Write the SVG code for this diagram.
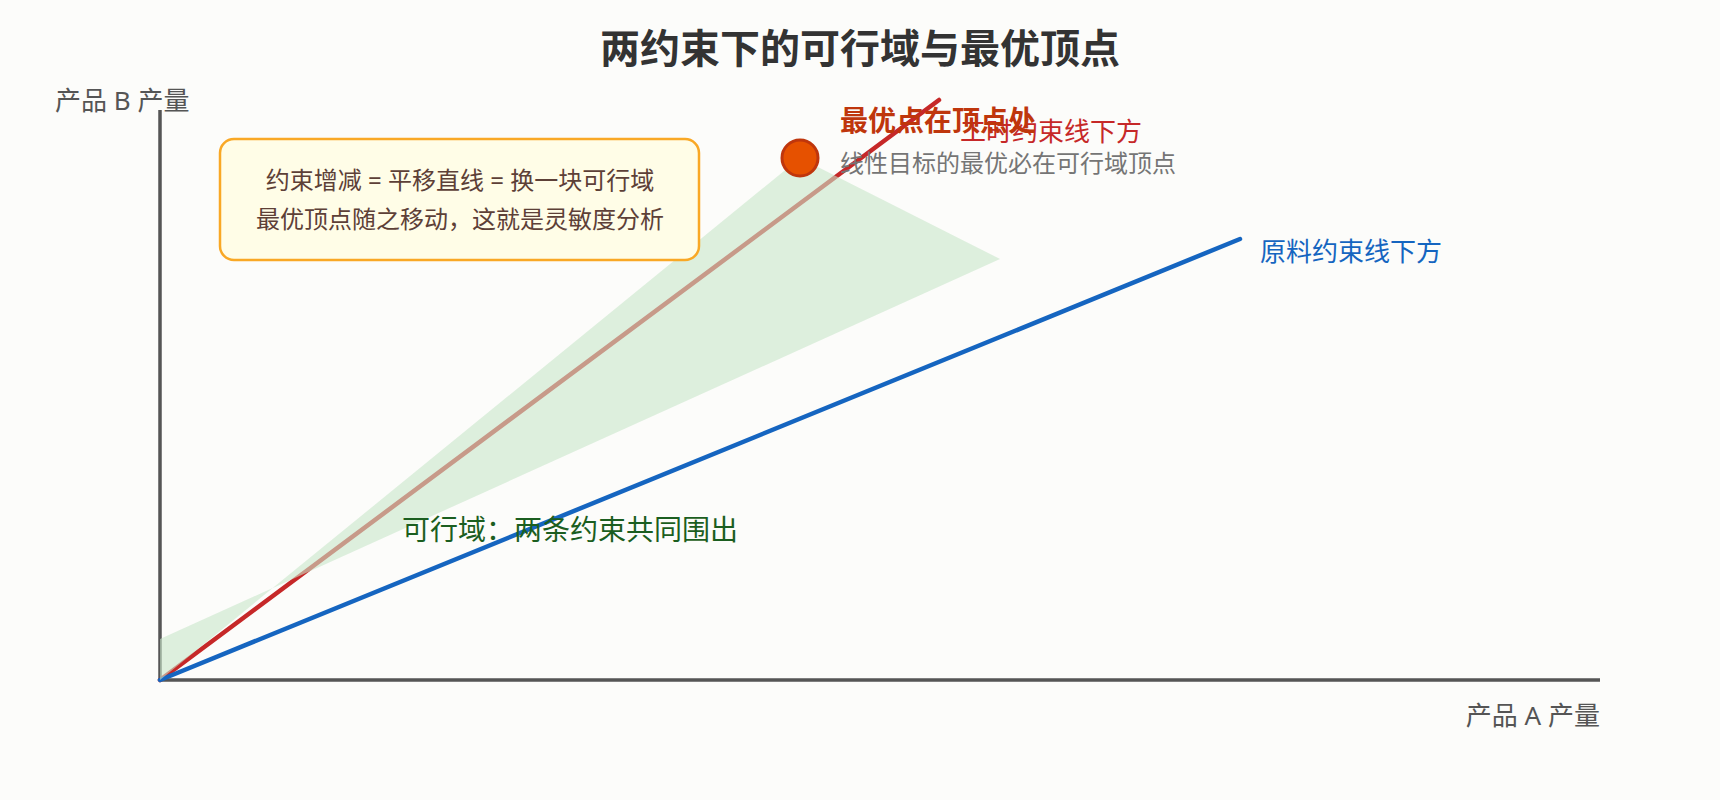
<svg xmlns="http://www.w3.org/2000/svg" width="1720" height="800" viewBox="0 0 1720 800">
<style>
text{font-family:"Noto Sans","Noto Sans CJK SC",sans-serif}
.title{font-size:40px;font-weight:bold;fill:#333;text-anchor:middle}
.axlab{font-size:26px;fill:#555}
.axis{stroke:#555;stroke-width:3.5;fill:none}
.line{stroke-width:4.5;fill:none;stroke-linecap:round}
.box{fill:#fffde7;stroke:#f9a825;stroke-width:2.5}
.boxtxt{font-size:24px;fill:#5d4037;text-anchor:middle}
</style>
<rect x="0" y="0" width="1720" height="800" fill="#fcfcfa"/>
<text class="title" x="860" y="63">两约束下的可行域与最优顶点</text>
<g id="axes">
<line class="axis" x1="160" y1="110" x2="160" y2="680"/>
<line class="axis" x1="160" y1="680" x2="1600" y2="680"/>
<text class="axlab" x="55" y="110">产品 B 产量</text>
<text class="axlab" x="1600" y="725" text-anchor="end">产品 A 产量</text>
</g>
<g id="connectors">
<line id="labor-line" class="line" stroke="#c62828" x1="160" y1="680" x2="939" y2="100"/>
<line id="material-line" class="line" stroke="#1565c0" x1="160" y1="680" x2="1240" y2="239"/>
</g>
<g id="feasible-region">
<polygon points="160,680 160,639 1000,259 800,158" fill="#c8e6c9" opacity="0.6"/>
<text x="402" y="540" font-size="28" fill="#1b5e20">可行域：两条约束共同围出</text>
</g>
<g id="labor-label">
<text x="960" y="141" font-size="26" fill="#c62828">工时约束线下方</text>
</g>
<g id="material-label">
<text x="1260" y="261" font-size="26" fill="#1565c0">原料约束线下方</text>
</g>
<g id="optimum">
<circle cx="800" cy="158" r="18" fill="#e65100" stroke="#bf360c" stroke-width="3"/>
<text x="840" y="131" font-size="28" font-weight="bold" fill="#bf360c">最优点在顶点处</text>
<text x="840" y="172" font-size="24" fill="#757575">线性目标的最优必在可行域顶点</text>
</g>
<g id="note">
<rect class="box" x="220" y="139" width="479" height="121" rx="14"/>
<text class="boxtxt" x="460" y="189">约束增减 = 平移直线 = 换一块可行域</text>
<text class="boxtxt" x="460" y="228">最优顶点随之移动，这就是灵敏度分析</text>
</g>
</svg>
